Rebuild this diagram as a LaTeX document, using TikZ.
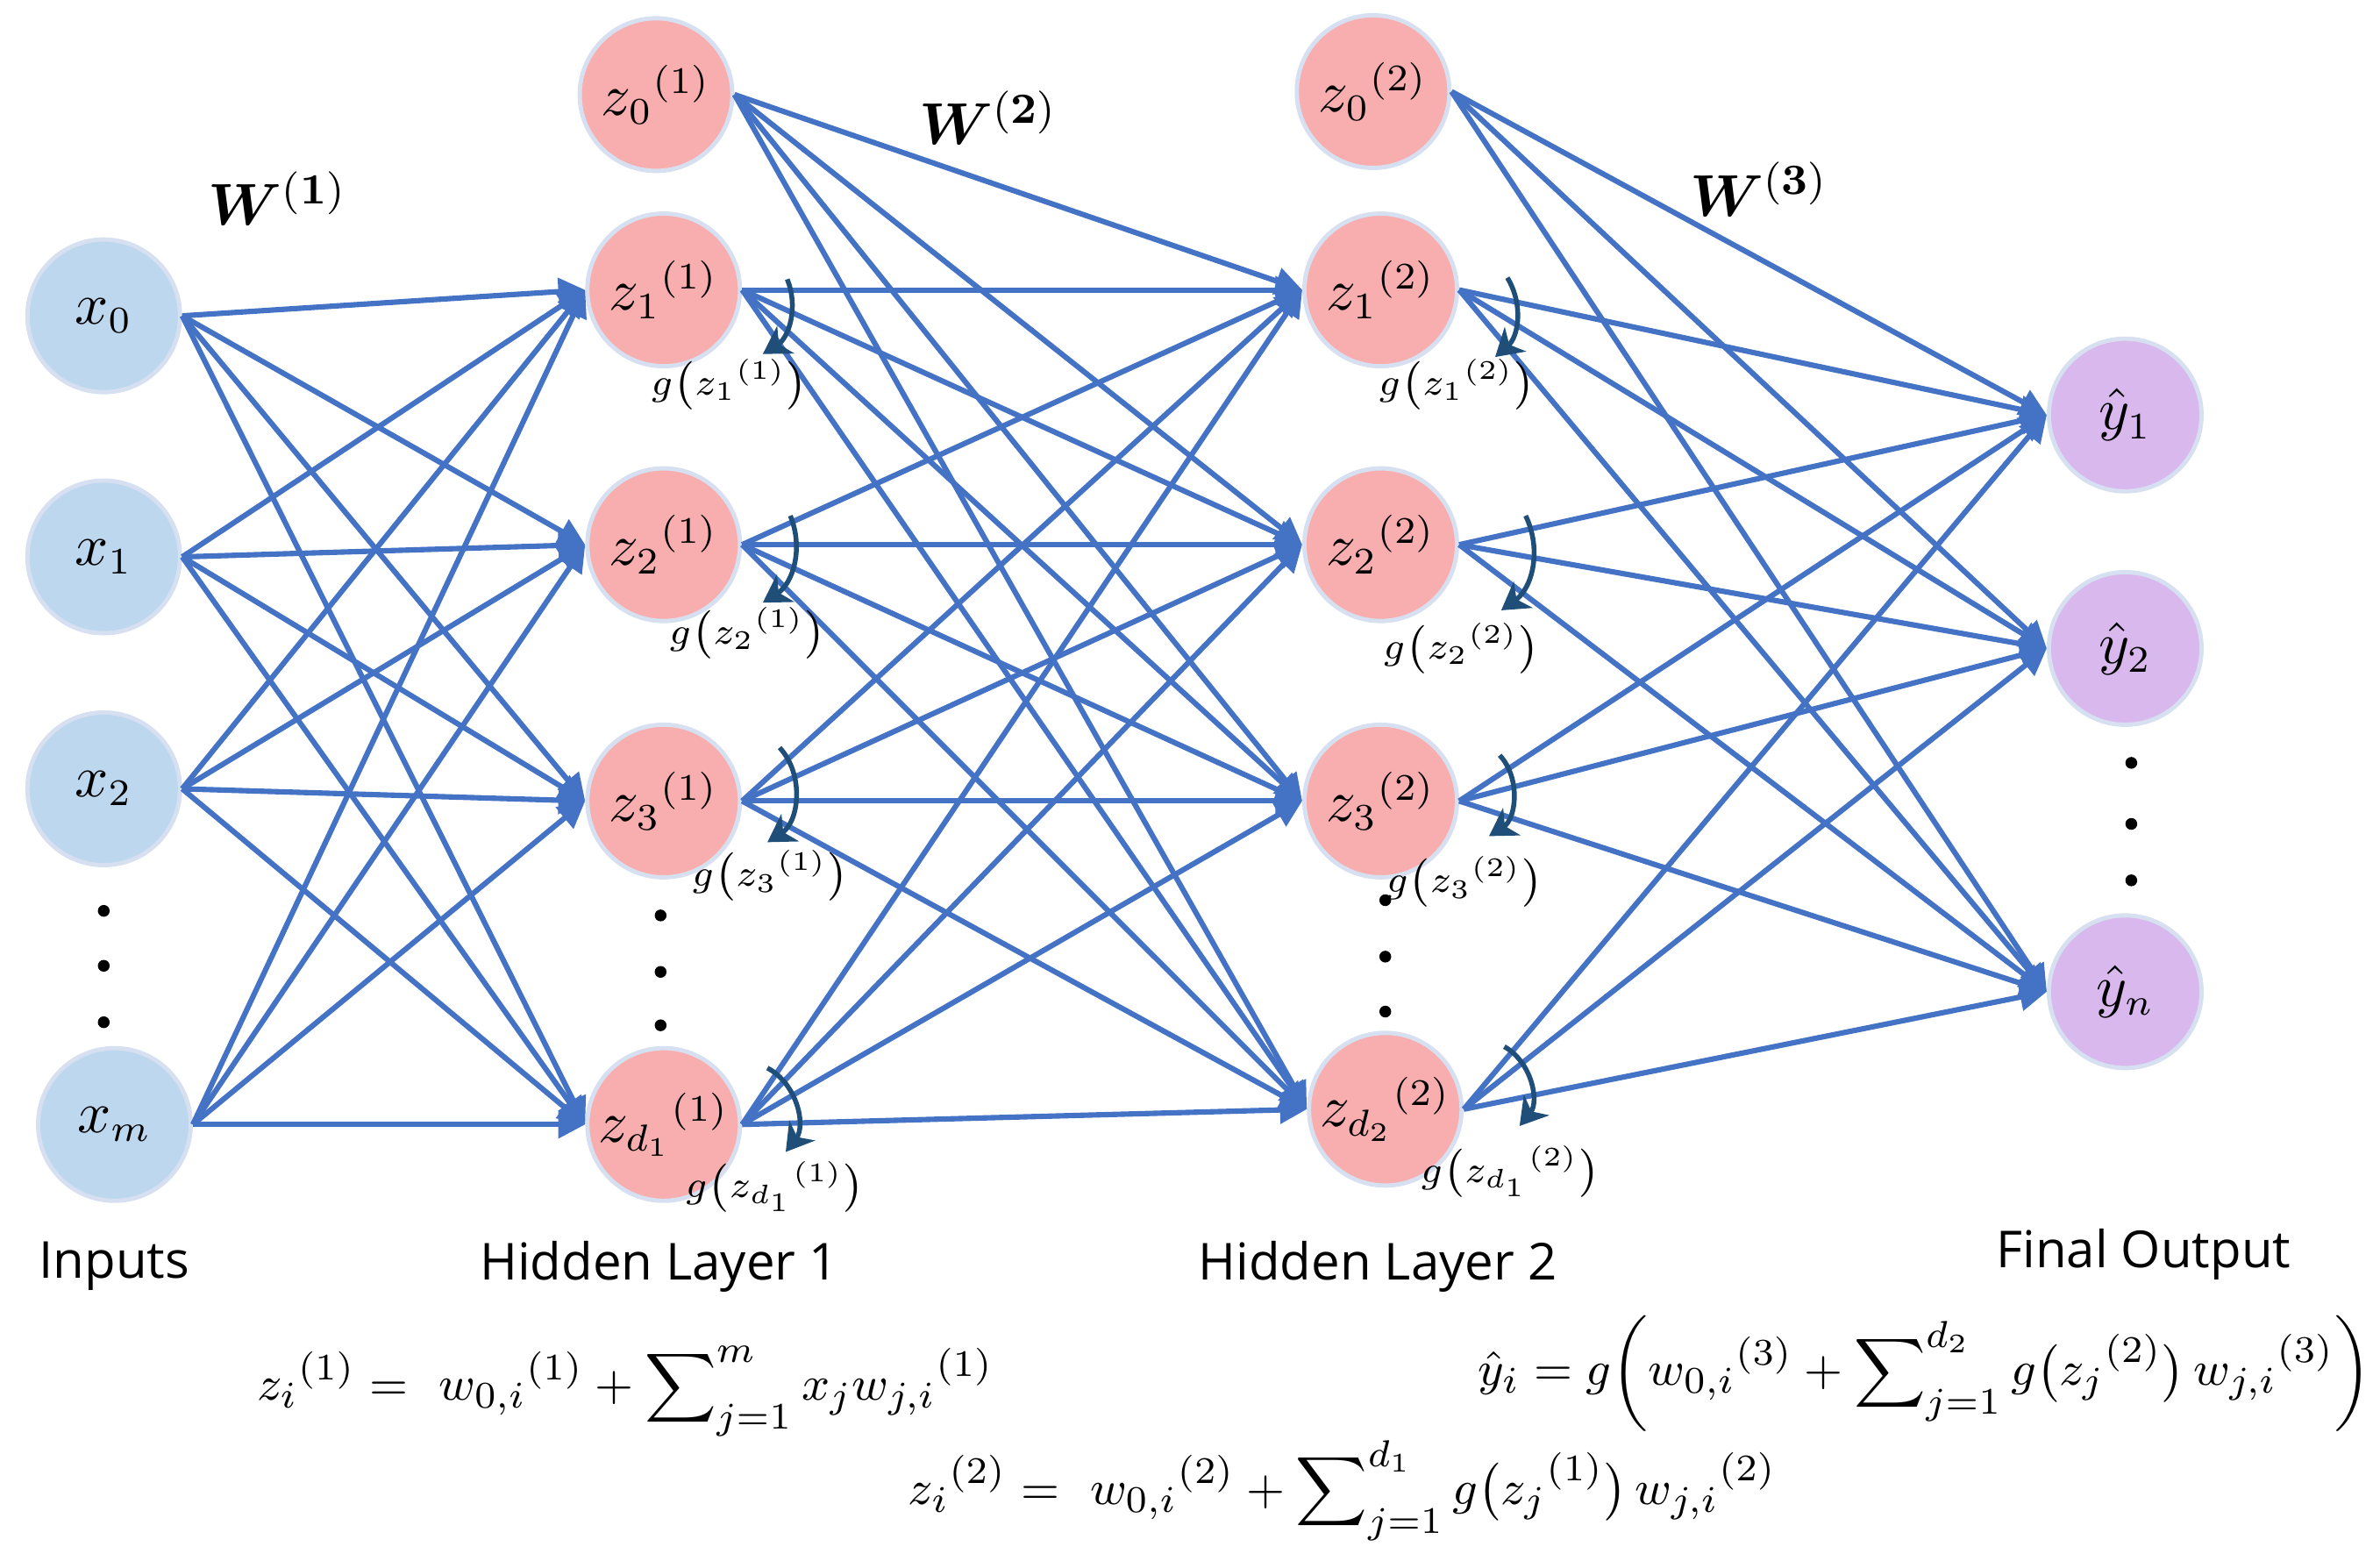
\documentclass[tikz,border=0pt]{standalone}
\usepackage{amsmath,bm}
\usepackage{fontspec}
\setsansfont{Open Sans}
\usetikzlibrary{arrows.meta}
\definecolor{eb}{HTML}{4472C4}
\definecolor{ab}{HTML}{1F4E79}
\definecolor{pk}{HTML}{F8AEAE}
\definecolor{lb}{HTML}{BDD7EE}
\definecolor{pu}{HTML}{D9B8EE}
\definecolor{rim}{HTML}{D6E0F0}
\begin{document}
\begin{tikzpicture}[x=0.01cm,y=-0.01cm,
  neu/.style={circle,minimum size=1cm,inner sep=0pt,draw=rim,line width=0.8pt,font=\fontsize{10.5}{13}\selectfont},
  inp/.style={neu,fill=lb},hid/.style={neu,fill=pk},outn/.style={neu,fill=pu},
  ed/.style={draw=eb,line width=1pt,-{Triangle[length=5pt,width=5pt]}},
  ga/.style={draw=ab,line width=0.9pt,-{Stealth[length=5pt,width=6pt,inset=1.5pt]}},
  gl/.style={font=\fontsize{7.5}{9}\selectfont},
  lab/.style={font=\sffamily\fontsize{9.5}{12}\selectfont},
  fm/.style={font=\fontsize{9.5}{12}\selectfont},
  dot/.style={circle,fill=black,inner sep=0pt,minimum size=2.2pt}]
\useasboundingbox (0,0) rectangle (1560,1023);
\node[inp] (x0) at (68,207) {$x_0$};
\node[inp] (x1) at (68,365) {$x_1$};
\node[inp] (x2) at (68,517) {$x_2$};
\node[inp] (xm) at (75,737) {$x_m$};
\foreach \y [count=\i] in {597,633,670} \node[dot] (di\i) at (68,\y) {};
\node[hid] (a0) at (430,62) {$z_0{}^{(1)}$};
\node[hid] (a1) at (435,190) {$z_1{}^{(1)}$};
\node[hid] (a2) at (435,357) {$z_2{}^{(1)}$};
\node[hid] (a3) at (435,525) {$z_3{}^{(1)}$};
\node[hid] (a4) at (435,737) {$z_{d_1}{}^{(1)}$};
\foreach \y [count=\i] in {600,637,672} \node[dot] (da\i) at (433,\y) {};
\node[hid] (b0) at (900,60) {$z_0{}^{(2)}$};
\node[hid] (b1) at (905,190) {$z_1{}^{(2)}$};
\node[hid] (b2) at (905,357) {$z_2{}^{(2)}$};
\node[hid] (b3) at (905,525) {$z_3{}^{(2)}$};
\node[hid] (b4) at (908,727) {$z_{d_2}{}^{(2)}$};
\foreach \y [count=\i] in {590,627,663} \node[dot] (db\i) at (908,\y) {};
\node[outn] (y1) at (1393,272) {$\hat y_1$};
\node[outn] (y2) at (1393,425) {$\hat y_2$};
\node[outn] (yn) at (1393,650) {$\hat y_n$};
\foreach \y [count=\i] in {500,540,577} \node[dot] (dy\i) at (1397,\y) {};
\foreach \s in {x0,x1,x2,xm} \foreach \t in {a1,a2,a3,a4} \draw[ed] (\s.east) -- (\t.west);
\foreach \s in {a0,a1,a2,a3,a4} \foreach \t in {b1,b2,b3,b4} \draw[ed] (\s.east) -- (\t.west);
\foreach \s in {b0,b1,b2,b3,b4} \foreach \t in {y1,y2,yn} \draw[ed] (\s.east) -- (\t.west);
% activation arrows
\coordinate (p1) at (516,183); \coordinate (q1) at (500,232);
\coordinate (p2) at (518,338); \coordinate (q2) at (500,395);
\coordinate (p3) at (511,490); \coordinate (q3) at (503,552);
\coordinate (p4) at (503,700); \coordinate (q4) at (515,755);
\coordinate (r1) at (988,182); \coordinate (s1) at (980,234);
\coordinate (r2) at (1000,338); \coordinate (s2) at (984,400);
\coordinate (r3) at (983,495); \coordinate (s3) at (976,548);
\coordinate (r4) at (986,686); \coordinate (s4) at (996,738);
\foreach \i in {1,2} {\draw[ga] (p\i) to[bend left=40] (q\i); \draw[ga] (r\i) to[bend left=40] (s\i);}
\foreach \i in {3,4} {\draw[ga] (p\i) to[bend left=50] (q\i); \draw[ga] (r\i) to[bend left=50] (s\i);}
\node[gl] (g1) at (478,252) {$g\big(z_1{}^{(1)}\big)$};
\node[gl] (g2) at (490,415) {$g\big(z_2{}^{(1)}\big)$};
\node[gl] (g3) at (505,574) {$g\big(z_3{}^{(1)}\big)$};
\node[gl] (g4) at (508,778) {$g\big(z_{d_1}{}^{(1)}\big)$};
\node[gl] (h1) at (955,252) {$g\big(z_1{}^{(2)}\big)$};
\node[gl] (h2) at (958,425) {$g\big(z_2{}^{(2)}\big)$};
\node[gl] (h3) at (960,578) {$g\big(z_3{}^{(2)}\big)$};
\node[gl] (h4) at (990,768) {$g\big(z_{d_1}{}^{(2)}\big)$};
\node[font=\fontsize{11}{13}\selectfont] (w1) at (182,130) {$\bm{W}^{(\bm 1)}$};
\node[font=\fontsize{11}{13}\selectfont] (w2) at (648,77) {$\bm{W}^{(\bm 2)}$};
\node[font=\fontsize{11}{13}\selectfont] (w3) at (1153,124) {$\bm{W}^{(\bm 3)}$};
\node[lab] (l1) at (75,830) {Inputs};
\node[lab] (l2) at (432,830) {Hidden Layer 1};
\node[lab] (l3) at (903,830) {Hidden Layer 2};
\node[lab] (l4) at (1405,822) {Final Output};
\node[fm] (f1) at (410,912) {$z_i{}^{(1)} =\ w_{0,i}{}^{(1)} + \displaystyle\sum\nolimits_{j=1}^{m} x_j w_{j,i}{}^{(1)}$};
\node[fm] (f2) at (880,977) {$z_i{}^{(2)} =\ w_{0,i}{}^{(2)} + \displaystyle\sum\nolimits_{j=1}^{d_1} g\big(z_j{}^{(1)}\big)\, w_{j,i}{}^{(2)}$};
\node[fm,anchor=east,inner sep=0pt] (f3) at (1555,900) {$\hat y_i = g\bigg(w_{0,i}{}^{(3)} + \displaystyle\sum\nolimits_{j=1}^{d_2} g\big(z_j{}^{(2)}\big)\, w_{j,i}{}^{(3)}\bigg)$};
\end{tikzpicture}
\end{document}
